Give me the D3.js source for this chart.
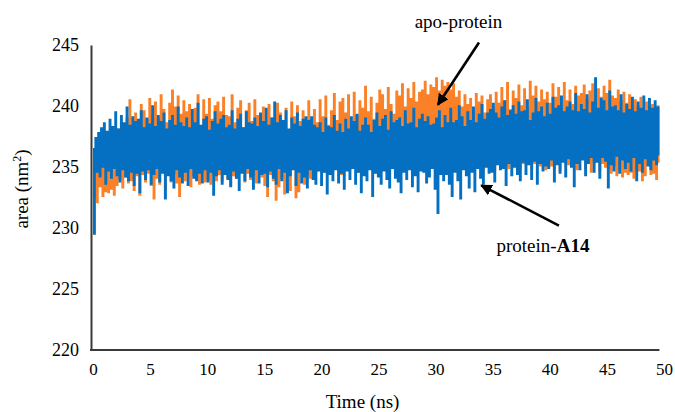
<!DOCTYPE html>
<html>
<head>
<meta charset="utf-8">
<script src="https://cdn.jsdelivr.net/npm/d3@7"></script>
<style>
  html, body { margin: 0; padding: 0; background: #ffffff; }
  svg { display: block; }
  text { font-family: "Liberation Serif", "Times New Roman", serif; fill: #000; }
</style>
</head>
<body>
<svg id="chart" width="675" height="412"></svg>
<script>
// ---- data ----
const timeStart = 0;      // ns
const timeEnd = 49.6;     // ns (last sample)
const xTicks = [0, 5, 10, 15, 20, 25, 30, 35, 40, 45, 50];
const yTicks = [220, 225, 230, 235, 240, 245];

const seriesNames = ["apo-protein", "protein-A14"];

// apo-protein (orange), area in nm^2, ~8 samples per ns (local highs / lows)
const apoProtein = [
235.5,232.5,236.2,232.1,235.0,233.4,236.4,232.6, 235.3,233.0,236.6,232.9,235.8,233.2,236.5,232.7,
237.2,233.5,238.1,234.0,238.6,233.3,237.5,234.2, 239.0,233.7,240.5,233.9,238.3,233.1,239.4,234.3,
238.8,232.7,240.1,234.4,239.6,233.8,238.9,234.5, 240.6,233.5,239.2,232.4,240.3,234.1,239.0,233.6,
240.9,234.8,239.7,233.2,238.6,234.5,240.2,233.8, 241.3,234.5,239.9,233.7,240.8,232.6,239.3,234.2,
240.4,233.9,239.5,234.7,240.1,233.4,238.8,234.3, 239.8,234.2,240.9,233.6,238.3,234.6,240.5,233.8,
239.3,234.0,240.6,233.6,238.9,234.4,240.0,233.9, 240.3,234.4,239.5,233.9,240.7,234.6,239.2,234.1,
239.1,233.5,240.9,234.3,238.6,234.1,239.8,234.7, 240.4,234.6,238.2,233.8,239.6,234.5,240.2,234.0,
238.7,234.3,240.5,233.7,239.2,234.8,239.0,234.2, 239.9,233.5,238.4,232.6,240.1,234.4,239.0,233.9,
238.6,232.3,240.2,233.4,239.4,234.1,238.8,232.8, 239.8,234.5,237.9,233.1,240.3,234.9,239.1,232.5,
240.0,233.0,238.7,234.7,239.6,233.6,238.9,234.4, 240.4,234.1,238.9,234.8,239.7,234.6,238.6,235.0,
240.5,235.2,239.1,234.6,240.8,234.9,238.4,235.3, 239.6,234.7,241.0,235.4,238.8,235.0,240.3,234.4,
240.6,235.3,239.4,234.9,240.9,234.8,238.5,235.6, 241.1,235.9,239.2,234.6,240.4,235.2,239.8,235.0,
241.6,234.9,239.5,235.5,240.7,235.2,238.9,235.0, 240.2,235.6,241.3,234.8,240.9,235.7,239.7,235.3,
241.5,235.5,240.1,235.9,239.3,234.9,241.2,235.6, 240.8,236.0,241.8,235.3,239.9,235.8,241.4,235.1,
240.6,235.7,241.9,236.1,240.3,235.4,241.1,235.9, 241.3,236.3,242.0,236.1,240.9,236.5,241.7,236.2,
241.5,236.6,242.3,236.4,241.2,236.8,242.1,236.5, 241.6,236.9,241.9,236.2,241.3,236.7,241.8,236.0,
240.7,235.6,241.2,235.2,239.9,235.8,240.9,235.4, 240.1,235.0,240.6,235.5,239.6,234.9,241.0,235.4,
240.3,235.5,240.8,234.8,239.4,235.3,240.5,235.2, 240.9,235.3,239.8,234.7,241.1,235.5,240.2,235.4,
241.5,235.0,240.4,235.2,241.9,234.9,239.7,235.6, 241.2,235.7,240.6,236.1,241.7,234.8,240.0,235.3,
241.4,235.2,239.9,235.6,242.0,234.9,240.8,235.3, 241.6,236.4,240.3,235.1,241.3,235.5,240.5,234.8,
241.1,235.6,240.2,235.1,241.8,234.9,240.7,235.4, 241.5,234.7,239.8,235.5,241.9,235.3,240.4,235.2,
241.3,235.1,240.1,235.6,241.6,234.8,240.8,235.9, 241.0,236.0,241.7,234.9,240.5,235.4,241.2,234.6,
241.8,235.4,240.9,235.7,241.4,234.7,240.7,235.3, 241.6,235.0,241.0,234.9,242.1,234.5,240.8,235.1,
240.6,234.3,241.3,234.8,240.4,234.2,241.1,234.6, 240.2,234.4,240.9,234.6,239.8,234.1,240.5,234.7,
240.0,234.7,240.7,233.9,239.6,234.3,240.3,235.2, 239.9,234.4,240.1,234.5,239.7,234.0,240.0,235.4
];

// protein-A14 (blue), area in nm^2, ~8 samples per ns (local highs / lows)
const proteinA14 = [
236.5,229.5,237.4,234.6,237.8,234.2,238.2,235.0, 238.6,233.6,237.9,234.7,238.9,234.1,238.3,234.9,
239.5,234.3,238.1,233.8,239.2,234.8,238.6,234.2, 239.9,233.9,238.4,234.6,239.1,233.5,238.7,234.5,
238.9,232.9,239.6,234.7,238.2,234.0,239.0,234.8, 238.5,233.6,240.0,234.4,238.3,234.9,239.2,233.8,
238.7,234.5,239.4,232.4,238.1,234.3,238.8,233.9, 239.2,233.3,238.4,234.8,239.9,234.2,238.6,233.7,
238.3,234.6,239.0,233.5,238.2,234.9,239.7,234.1, 238.6,233.9,240.2,234.5,238.4,233.7,238.9,234.8,
239.1,233.8,238.0,234.6,238.7,232.7,239.5,234.3, 238.5,234.8,238.9,233.6,239.2,234.4,238.2,234.0,
238.4,233.4,239.6,234.7,238.1,234.1,238.9,233.1, 239.3,234.5,238.2,233.9,239.5,234.9,238.6,234.2,
238.5,233.2,239.0,234.8,238.3,233.7,239.4,234.4, 238.7,234.5,239.8,233.4,238.4,234.7,239.0,234.1,
240.3,233.6,238.6,234.9,239.2,233.9,238.8,234.6, 239.6,232.9,238.1,234.3,239.0,234.8,238.5,233.5,
239.4,234.6,238.3,233.7,238.9,234.2,239.1,233.3, 238.8,234.8,239.1,234.0,238.4,233.6,238.2,234.7,
238.6,233.5,237.8,234.6,239.0,232.8,238.3,234.4, 238.2,233.9,239.2,234.8,237.9,233.7,238.5,234.5,
237.8,233.2,238.9,234.7,238.1,234.0,239.1,234.9, 238.7,233.6,239.3,234.6,237.9,232.9,238.4,234.3,
239.0,233.9,238.4,234.8,237.8,232.6,238.8,234.5, 239.4,234.2,238.3,233.6,238.9,234.7,239.2,234.0,
238.0,233.3,239.5,234.9,238.6,234.1,238.8,233.8, 239.0,232.9,238.3,234.6,239.6,234.0,238.5,234.8,
238.6,233.4,239.8,234.3,238.2,233.0,238.9,234.7, 239.3,234.6,238.7,233.7,239.1,234.2,238.4,234.9,
238.5,233.2,239.0,231.2,239.6,234.4,238.2,233.9, 239.2,234.4,238.6,233.6,239.8,232.6,238.6,234.6,
238.8,233.9,240.0,232.4,239.1,234.8,238.3,234.3, 239.5,233.3,238.8,234.6,239.9,233.0,238.6,234.9,
239.3,234.1,240.1,233.6,238.9,235.0,239.4,234.5, 239.7,234.6,240.2,233.8,239.4,235.2,239.0,234.8,
239.9,234.9,240.4,233.5,239.2,235.3,239.6,234.3, 240.0,235.0,239.3,234.4,240.3,233.9,239.5,235.4,
239.6,234.4,240.5,235.2,238.8,234.0,239.4,235.5, 240.6,233.6,239.5,235.3,239.9,234.7,239.1,235.1,
240.2,234.9,239.3,235.6,240.7,233.8,239.8,235.2, 240.0,234.5,240.8,235.4,239.5,234.2,239.9,235.7,
240.3,235.0,239.6,233.4,241.0,235.3,239.5,234.8, 240.1,235.6,239.7,234.3,240.9,235.3,239.4,235.8,
240.3,234.6,242.3,235.4,239.8,234.1,240.6,235.8, 240.4,235.5,239.6,233.3,241.2,235.2,239.9,234.7,
240.0,235.9,239.6,234.5,240.9,235.6,239.4,234.9, 240.1,235.4,239.7,234.7,240.7,235.8,239.5,233.9,
240.3,235.3,239.8,234.6,240.8,235.7,239.6,235.1, 240.6,234.8,239.8,235.6,240.4,235.2,239.9,236.0
];

// annotations (positions in data units): text anchor, arrow tail, arrow tip
const annotationLabels = ["apo-protein", "protein-"];
const annotationBold = ["", "A14"];
const annotationText = [[32.0, 246.4], [39.4, 228.0]];
const annotationTail = [[33.8, 245.2], [40.8, 230.2]];
const annotationTip  = [[30.2, 240.1], [34.0, 233.5]];

// ---- chart ----
const svg = d3.select("#chart");
const x = d3.scaleLinear().domain([0, 50]).range([93, 664]);
const y = d3.scaleLinear().domain([220, 245]).range([350, 45]);

const colors = { "apo-protein": "#FA8128", "protein-A14": "#0570C1" };

function withTime(values) {
  const n = values.length;
  return values.map((v, i) => [timeStart + (timeEnd - timeStart) * i / (n - 1), v]);
}

const line = d3.line().curve(d3.curveStep).x(d => x(d[0])).y(d => y(d[1]));

svg.append("path")
  .datum(withTime(apoProtein))
  .attr("fill", "none")
  .attr("stroke", colors["apo-protein"])
  .attr("stroke-width", 1.5)
  .attr("d", line);

svg.append("path")
  .datum(withTime(proteinA14))
  .attr("fill", "none")
  .attr("stroke", colors["protein-A14"])
  .attr("stroke-width", 1.5)
  .attr("d", line);

// axes
const axisColor = "#3a3a3a";
const yAxis = svg.append("g")
  .attr("transform", `translate(${x(0) - 2},0)`)
  .call(d3.axisLeft(y).tickValues(yTicks).tickSize(0).tickSizeOuter(0).tickPadding(12));
yAxis.select(".domain").attr("stroke", axisColor).attr("stroke-width", 2);
yAxis.selectAll(".tick text")
  .attr("font-family", "Liberation Serif")
  .attr("font-size", 18);

const xAxis = svg.append("g")
  .attr("transform", `translate(0,${y(220)})`)
  .call(d3.axisBottom(x).tickValues(xTicks).tickSize(0).tickPadding(13));
xAxis.select(".domain").remove();
xAxis.selectAll(".tick text")
  .attr("font-family", "Liberation Serif")
  .attr("font-size", 17);
svg.append("line")
  .attr("x1", x(0) - 3).attr("x2", x(timeEnd))
  .attr("y1", y(220)).attr("y2", y(220))
  .attr("stroke", axisColor).attr("stroke-width", 2);

// axis titles
svg.append("text")
  .attr("x", x(23.6)).attr("y", 408)
  .attr("text-anchor", "middle")
  .attr("font-size", 19)
  .text("Time (ns)");

const yt = svg.append("text")
  .attr("transform", `translate(28,${y(233.2)}) rotate(-90)`)
  .attr("text-anchor", "middle")
  .attr("font-size", 19);
yt.append("tspan").text("area (nm");
yt.append("tspan").attr("baseline-shift", "super").attr("font-size", 12).text("2");
yt.append("tspan").text(")");

// annotations
svg.append("defs").append("marker")
  .attr("id", "arrowhead")
  .attr("viewBox", "0 0 10 10")
  .attr("refX", 9).attr("refY", 5)
  .attr("markerWidth", 4.5).attr("markerHeight", 4.5)
  .attr("orient", "auto")
  .append("path")
  .attr("d", "M0,0 L10,5 L0,10 z")
  .attr("fill", "#000");

annotationLabels.forEach((lab, i) => {
  svg.append("line")
    .attr("x1", x(annotationTail[i][0])).attr("y1", y(annotationTail[i][1]))
    .attr("x2", x(annotationTip[i][0])).attr("y2", y(annotationTip[i][1]))
    .attr("stroke", "#000").attr("stroke-width", 2.6)
    .attr("marker-end", "url(#arrowhead)");
  const t = svg.append("text")
    .attr("x", x(annotationText[i][0])).attr("y", y(annotationText[i][1]))
    .attr("text-anchor", "middle")
    .attr("font-size", 19);
  t.append("tspan").text(lab);
  if (annotationBold[i]) t.append("tspan").attr("font-weight", "bold").text(annotationBold[i]);
});
</script>
</body>
</html>
